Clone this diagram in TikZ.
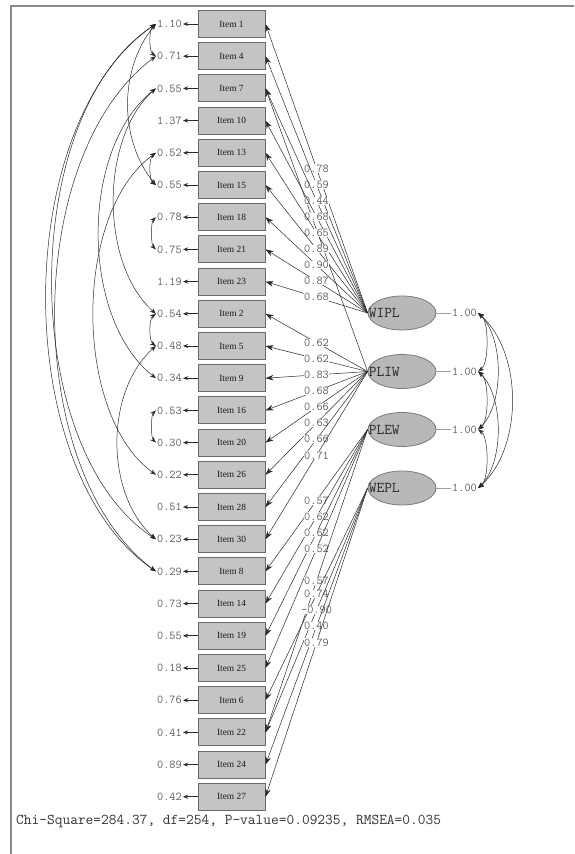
\documentclass[tikz,border=0pt]{standalone}
\usepackage{fontspec}
\setmainfont{Liberation Serif}
\usetikzlibrary{shapes.geometric,arrows.meta,calc}
\definecolor{boxfill}{HTML}{C4C4C4}
\definecolor{boxline}{HTML}{6A6A6A}
\definecolor{latfill}{HTML}{B8B8B8}
\definecolor{latline}{HTML}{7A7A7A}
\definecolor{numgray}{HTML}{5E5E5E}
\definecolor{linecol}{HTML}{2A2A2A}
\definecolor{framecol}{HTML}{8A8A8A}
\tikzset{
  itembox/.style={draw=boxline, fill=boxfill, line width=1pt, minimum width=67pt, minimum height=27pt, inner sep=0pt, text=black!90, font=\fontsize{9.4}{10}\selectfont},
  errv/.style={anchor=east, inner sep=1pt, text=numgray, font=\ttfamily\fontsize{12}{12}\selectfont},
  varv/.style={anchor=west, inner sep=1pt, text=numgray, font=\ttfamily\fontsize{12}{12}\selectfont},
  latent/.style={ellipse, draw=latline, fill=latfill, line width=0.8pt, minimum width=68pt, minimum height=34pt, inner sep=0pt},
  latlbl/.style={anchor=west, inner sep=1pt, text=black!85, font=\ttfamily\fontsize{15}{15}\selectfont},
  loadarr/.style={draw=linecol, line width=0.5pt, -{Stealth[length=8pt,width=5.5pt]}},
  lbl/.style={fill=white, inner sep=0.3pt, text=numgray, font=\ttfamily\fontsize{12}{12}\selectfont},
  errarr/.style={draw=linecol, line width=0.9pt, -{Stealth[length=5pt,width=4pt]}},
  covarr/.style={draw=linecol, line width=0.5pt, {Stealth[length=6pt,width=4.5pt]}-{Stealth[length=6pt,width=4.5pt]}},
  varline/.style={draw=numgray!60, line width=0.6pt},
  frameline/.style={draw=framecol, line width=2pt}
}
\newcommand{\covleft}[4]{\draw[covarr] (#1.west) .. controls ($(#1.west)+(-#3,#4)$) and ($(#2.west)+(-#3,-#4)$) .. (#2.west);}
\newcommand{\covright}[4]{\draw[covarr] (#1.east) .. controls ($(#1.east)+(#3,#4)$) and ($(#2.east)+(#3,-#4)$) .. (#2.east);}
\begin{document}
\begin{tikzpicture}[x=1pt,y=-1pt]
\useasboundingbox (0,0) rectangle (574,854);
\fill[white] (0,0) rectangle (574,854);
% frame
\coordinate (fa) at (10,6);
\coordinate (fb) at (574,6);
\coordinate (fc) at (11,854);
\draw[frameline] (fb) -- (fa) -- (11,6) -- (fc);

% items and error variances
\foreach \n/\k/\e in {1/0/1.10, 4/1/0.71, 7/2/0.55, 10/3/1.37, 13/4/0.52, 15/5/0.55, 18/6/0.78, 21/7/0.75, 23/8/1.19,
  2/9/0.54, 5/10/0.48, 9/11/0.34, 16/12/0.53, 20/13/0.30, 26/14/0.22, 28/15/0.51, 30/16/0.23,
  8/17/0.29, 14/18/0.73, 19/19/0.55, 25/20/0.18, 6/21/0.76, 22/22/0.41, 24/23/0.89, 27/24/0.42} {
  \node[itembox] (i\n) at (231.5, {24+32.2*\k}) {Item \n};
  \node[errv] (e\n) at (183, {24+32.2*\k}) {\e};
  \draw[errarr] (i\n.west) -- (e\n.east);
}

% latent variables
\node[latent] (WIPL) at (402,313) {};
\node[latent] (PLIW) at (402,371.5) {};
\node[latent] (PLEW) at (402,429.5) {};
\node[latent] (WEPL) at (402,488) {};
\node[latlbl] (tWIPL) at (WIPL.west) {WIPL};
\node[latlbl] (tPLIW) at (PLIW.west) {PLIW};
\node[latlbl] (tPLEW) at (PLEW.west) {PLEW};
\node[latlbl] (tWEPL) at (WEPL.west) {WEPL};

% variances of latent variables
\node[varv] (v1) at (451,313) {1.00};
\node[varv] (v2) at (451,371.5) {1.00};
\node[varv] (v3) at (451,429.5) {1.00};
\node[varv] (v4) at (451,488) {1.00};
\draw[varline] (WIPL.east) -- (v1.west);
\draw[varline] (PLIW.east) -- (v2.west);
\draw[varline] (PLEW.east) -- (v3.west);
\draw[varline] (WEPL.east) -- (v4.west);

% loadings
\draw[loadarr] (PLIW.west) -- (i7.east);
\foreach \n/\v in {1/0.78, 4/0.59, 7/0.44, 10/0.68, 13/0.65, 15/0.89, 18/0.90, 21/0.87, 23/0.68}
  \draw[loadarr] (WIPL.west) -- node[lbl] {\v} (i\n.east);
\foreach \n/\v in {2/0.62, 5/0.62, 9/0.83, 16/0.68, 20/0.66, 26/0.63, 28/0.66, 30/0.71}
  \draw[loadarr] (PLIW.west) -- node[lbl] {\v} (i\n.east);
\foreach \n/\v in {8/0.57, 14/0.62, 19/0.62, 25/0.52, 22/0.57}
  \draw[loadarr] (PLEW.west) -- node[lbl] {\v} (i\n.east);
\foreach \n/\v in {6/0.74, 22/-0.90, 24/0.40, 27/0.79}
  \draw[loadarr] (WEPL.west) -- node[lbl] {\v} (i\n.east);

% error covariances (left)
\covleft{e1}{e4}{7}{5}
\covleft{e13}{e15}{7}{5}
\covleft{e18}{e21}{5}{5}
\covleft{e2}{e5}{7}{5}
\covleft{e16}{e20}{5}{5}
\covleft{e1}{e15}{37}{45}
\covleft{e7}{e2}{56}{50}
\covleft{e7}{e9}{76}{60}
\covleft{e13}{e26}{83}{60}
\covleft{e5}{e30}{51}{45}
\covleft{e1}{e30}{138}{90}
\covleft{e1}{e8}{146}{100}
\covleft{e4}{e8}{134}{100}

% covariances of latent variables (right)
\covright{v1}{v2}{11}{8}
\covright{v2}{v3}{11}{8}
\covright{v3}{v4}{11}{8}
\covright{v1}{v3}{26}{25}
\covright{v2}{v4}{26}{25}
\covright{v1}{v4}{45}{40}

% fit statistics
\node[anchor=west, inner sep=0pt, text=black!80, font=\ttfamily\fontsize{15}{15}\selectfont] (fit) at (16,821) {Chi-Square=284.37, df=254, P-value=0.09235, RMSEA=0.035};
\end{tikzpicture}
\end{document}
